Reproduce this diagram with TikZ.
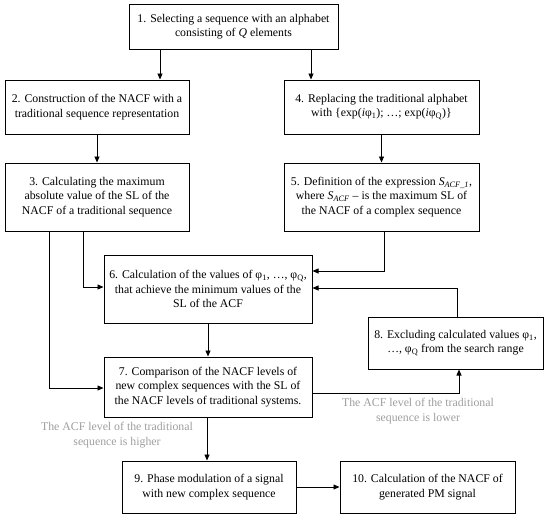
\documentclass[tikz,border=0pt]{standalone}
\usepackage{fontspec}
\setmainfont{Liberation Serif}
\usetikzlibrary{arrows.meta}
\begin{document}
\begin{tikzpicture}[x=1pt,y=-1pt,
  box/.style={draw=black,line width=1pt,align=center,inner sep=0pt,
    font=\fontsize{11.8}{14.5}\selectfont},
  arr/.style={draw=black,line width=0.8pt,-{Triangle[length=6pt,width=5pt]}},
  note/.style={align=center,text=black!38,font=\fontsize{11.8}{14.5}\selectfont}]
\useasboundingbox (0,0) rectangle (550,520);
\node[box,minimum width=209pt,minimum height=45pt] (b1) at (233.5,26.5)
  {1. Selecting a sequence with an alphabet\\consisting of \textit{Q} elements};
\node[box,minimum width=184pt,minimum height=54pt] (b2) at (97,107)
  {2. Construction of the NACF with a\\traditional sequence representation};
\node[box,minimum width=195pt,minimum height=54pt] (b4) at (381.5,107)
  {4. Replacing the traditional alphabet\\with \{exp(\textit{i}φ\textsubscript{1}); …; exp(\textit{i}φ\textsubscript{Q})\}};
\node[box,minimum width=184pt,minimum height=68pt] (b3) at (97,197)
  {3. Calculating the maximum\\absolute value of the SL of the\\NACF of a traditional sequence};
\node[box,minimum width=195pt,minimum height=68pt] (b5) at (381.5,197)
  {5. Definition of the expression \textit{S}\textsubscript{\textit{ACF\_1}},\\where \textit{S}\textsubscript{\textit{ACF}} – is the maximum SL of\\the NACF of a complex sequence};
\node[box,minimum width=208pt,minimum height=68pt] (b6) at (208,289)
  {6. Calculation of the values of φ\textsubscript{1}, …, φ\textsubscript{Q},\\that achieve the minimum values of the\\SL of the ACF};
\node[box,minimum width=175pt,minimum height=52pt] (b8) at (455.5,343)
  {8. Excluding calculated values φ\textsubscript{1},\\…, φ\textsubscript{Q} from the search range};
\node[box,minimum width=208pt,minimum height=60pt] (b7) at (208,387)
  {7. Comparison of the NACF levels of\\new complex sequences with the SL of\\the NACF levels of traditional systems.};
\node[box,minimum width=174pt,minimum height=52pt] (b9) at (209,487)
  {9. Phase modulation of a signal\\with new complex sequence};
\node[box,minimum width=175pt,minimum height=52pt] (b10) at (427.5,487)
  {10. Calculation of the NACF of\\generated PM signal};
\node[note] (n1) at (117,435) {The ACF level of the traditional\\sequence is higher};
\node[note] (n2) at (418,411) {The ACF level of the traditional\\sequence is lower};
% connectors
\draw[arr] (b1.south -| 160,0) -- (b2.north -| 160,0);
\draw[arr] (b1.south -| 311,0) -- (b4.north -| 311,0);
\draw[arr] (b2) -- (b3);
\draw[arr] (b4) -- (b5);
\draw[arr] (b3.south -| 83,0) |- (b6.west |- 0,287);
\draw[arr] (b3.south -| 49,0) |- (b7.west |- 0,388);
\draw[arr] (b5.south -| 384,0) |- (b6.east |- 0,271);
\draw[arr] (b8.north -| 457,0) |- (b6.east |- 0,288);
\draw[arr] (b6) -- (b7);
\draw[arr] (b7.east |- 0,393) -| (b8.south -| 459,0);
\draw[arr] (b7.south -| 207,0) -- (b9.north -| 207,0);
\draw[arr] (b9) -- (b10);
\end{tikzpicture}
\end{document}
